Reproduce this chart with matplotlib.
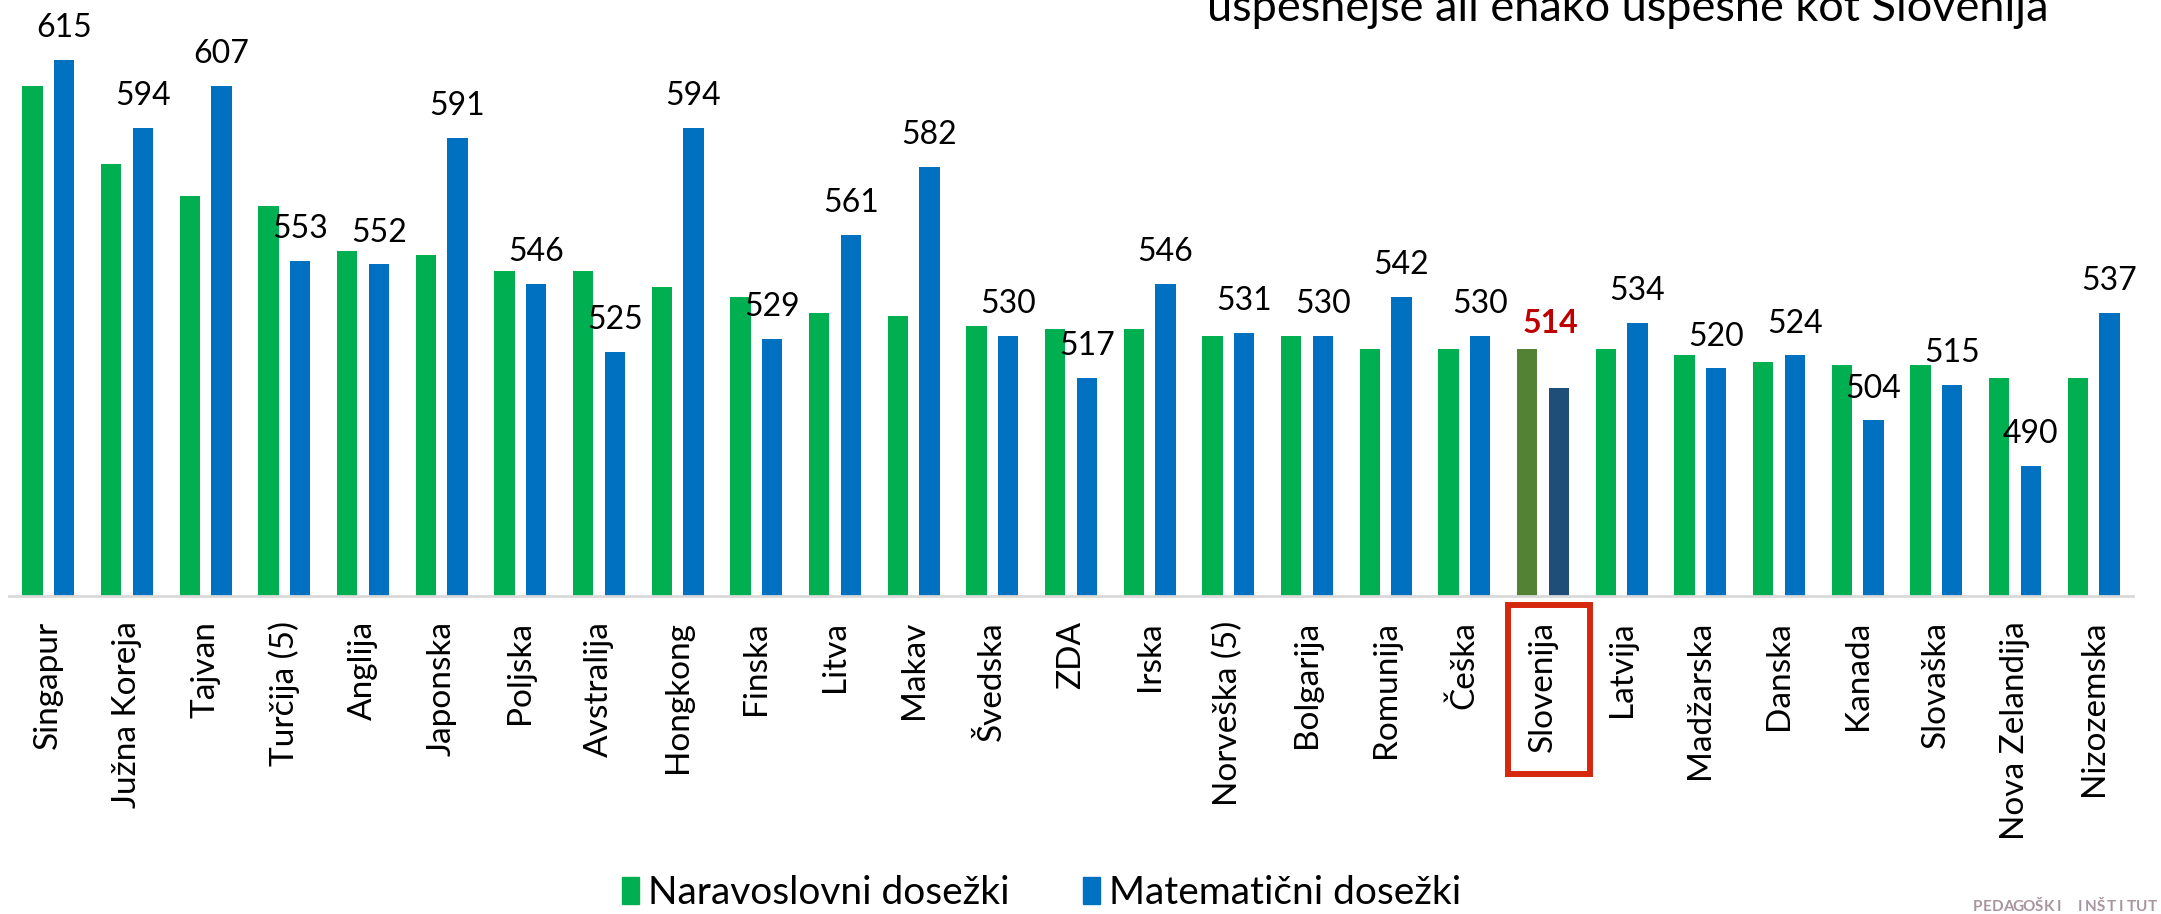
import matplotlib
matplotlib.use('Agg')
import matplotlib.pyplot as plt
import matplotlib.transforms as mtransforms
from matplotlib.patches import Rectangle, Patch

# ---- data ----
countries = ['Singapur', 'Južna Koreja', 'Tajvan', 'Turčija (5)', 'Anglija', 'Japonska',
             'Poljska', 'Avstralija', 'Hongkong', 'Finska', 'Litva', 'Makav', 'Švedska',
             'ZDA', 'Irska', 'Norveška (5)', 'Bolgarija', 'Romunija', 'Češka', 'Slovenija',
             'Latvija', 'Madžarska', 'Danska', 'Kanada', 'Slovaška', 'Nova Zelandija',
             'Nizozemska']
naravoslovje = [607, 583, 573, 570, 556, 555, 550, 550, 545, 542, 537, 536, 533, 532,
                532, 530, 530, 526, 526, 526, 526, 524, 522, 521, 521, 517, 517]
matematika = [615, 594, 607, 553, 552, 591, 546, 525, 594, 529, 561, 582, 530, 517,
              546, 531, 530, 542, 530, 514, 534, 520, 524, 504, 515, 490, 537]
highlight = 'Slovenija'
legend_labels = ['Naravoslovni dosežki', 'Matematični dosežki']
title_text = 'uspešnejše ali enako uspešne kot Slovenija'
logo_text = 'PEDAGOŠKI INŠTITUT'

# ---- style ----
plt.rcParams['font.family'] = ['Lato', 'DejaVu Sans']
C_SCI, C_MAT = '#00B050', '#0070C0'
C_SCI_HL, C_MAT_HL = '#548235', '#1F4E79'

W, H = 2161, 914
fig = plt.figure(figsize=(W / 100, H / 100), dpi=100)
ax = fig.add_axes([9 / W, 1 - 596 / H, (2133 - 9) / W, 596 / H])

x = list(range(len(countries)))
bw = 0.26
off = 0.2
sci_colors = [C_SCI_HL if c == highlight else C_SCI for c in countries]
mat_colors = [C_MAT_HL if c == highlight else C_MAT for c in countries]
ax.bar([i - off for i in x], naravoslovje, width=bw, color=sci_colors, zorder=2)
ax.bar([i + off for i in x], matematika, width=bw, color=mat_colors, zorder=2)

ax.set_ylim(450, 450 + 596 / 3.25)
ax.set_xlim(-0.5, len(countries) - 0.5)

for s in ['top', 'left', 'right']:
    ax.spines[s].set_visible(False)
ax.spines['bottom'].set_color('#D9D9D9')
ax.spines['bottom'].set_linewidth(2)
ax.spines['bottom'].set_zorder(3)
ax.set_yticks([])
ax.set_xticks(x)
ax.set_xticklabels(countries, rotation=90, fontsize=24)
ax.tick_params(axis='x', length=0, pad=18)

for i, (c, s, m) in enumerate(zip(countries, naravoslovje, matematika)):
    if c == highlight:
        ax.annotate(str(m), (i + 0.1, s), xytext=(0, 11.5), textcoords='offset points',
                    ha='center', va='baseline', fontsize=23, fontweight='bold',
                    color='#C00000', annotation_clip=False)
        trans = mtransforms.blended_transform_factory(ax.transData, ax.transAxes)
        ax.add_patch(Rectangle((i - 0.45, -0.2987), 1.05, 0.2836, transform=trans,
                               fill=False, ec='#D5290F', lw=4.3, clip_on=False))
    else:
        ax.annotate(str(m), (i + off, m), xytext=(0, 16.5), textcoords='offset points',
                    ha='center', va='baseline', fontsize=23, annotation_clip=False)

handles = [Patch(color=C_SCI), Patch(color=C_MAT)]
fig.legend(handles, legend_labels, loc='center', bbox_to_anchor=(0.482, 1 - 893 / H),
           ncol=2, frameon=False, fontsize=28, handlelength=0.44, handleheight=0.72,
           handletextpad=0.23, columnspacing=1.88)

fig.text(1207 / W, 1 - 21 / H, title_text, fontsize=32.5, ha='left', va='baseline')

for k, ch in enumerate(logo_text):
    fig.text((1972 + 10.3 * k + 5) / W, 1 - 911 / H, ch, ha='center', va='baseline',
             fontsize=11, fontweight='bold', color='#A8949E')

fig.savefig('out.png', dpi=100)
